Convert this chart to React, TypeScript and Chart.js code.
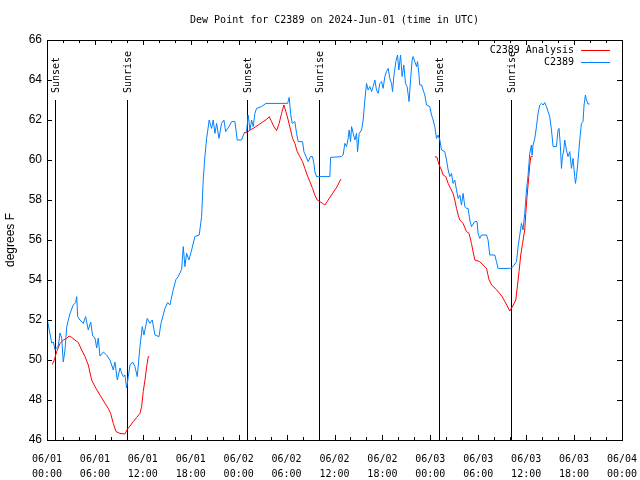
import { useEffect, useRef } from "react";
import { Chart, registerables } from "chart.js";

Chart.register(...registerables);

const TITLE = "Dew Point for C2389 on 2024-Jun-01 (time in UTC)";
const Y_TITLE = "degrees F";
const X_MIN = 0;
const X_MAX = 72;
const Y_MIN = 46;
const Y_MAX = 66;
const X_TICK_DATES = ["06/01", "06/01", "06/01", "06/01", "06/02", "06/02", "06/02", "06/02", "06/03", "06/03", "06/03", "06/03", "06/04"];
const X_TICK_TIMES = ["00:00", "06:00", "12:00", "18:00", "00:00", "06:00", "12:00", "18:00", "00:00", "06:00", "12:00", "18:00", "00:00"];

const SUN_HOURS = [1.04, 10.0, 25.04, 34.0, 49.05, 58.05];
const SUN_LABELS = ["Sunset", "Sunrise", "Sunset", "Sunrise", "Sunset", "Sunrise"];
const SUN_LINE_TOP = 63;

const OBS_LABEL = "C2389";
const ANA_LABEL = "C2389 Analysis";

// Observed dew point (hours since 06/01 00:00 UTC)
const OBS_HOURS = [
  0, 0.59, 0.8, 1.0, 1.41, 1.63, 1.84, 2.04, 2.25, 2.47, 2.88, 3.29, 3.59, 3.72, 3.84, 4.13, 4.54, 4.84, 5.17, 5.47,
  5.72, 6.01, 6.22, 6.42, 6.63, 7.05, 7.47, 7.88, 8.1, 8.3, 8.51, 8.8, 9.14, 9.35, 9.55, 9.76, 9.97, 10.18, 10.39, 10.73,
  11.01, 11.3, 11.64, 11.93, 12.14, 12.55, 12.89, 13.18, 13.52, 14.02, 14.27, 14.77, 15.11, 15.39, 15.8, 16.15, 16.43, 16.86, 17.06, 17.27,
  17.48, 17.77, 18.11, 18.52, 19.06, 19.36, 19.56, 19.77, 19.99, 20.31, 20.61, 20.81, 21.03, 21.24, 21.53, 21.86, 22.15, 22.37, 22.78, 23.12,
  23.53, 23.82, 24.37, 24.66, 24.99, 25.19, 25.41, 25.62, 25.82, 26.03, 26.24, 26.87, 27.41, 30.13, 30.33, 30.5, 30.7, 31.04, 31.25, 31.45,
  32.0, 32.17, 32.7, 33.0, 33.25, 33.42, 33.54, 33.75, 35.42, 35.51, 36.88, 37.08, 37.3, 37.51, 37.71, 37.83, 38.01, 38.14, 38.34, 38.55,
  38.76, 38.89, 39.09, 39.39, 39.59, 39.8, 40.01, 40.21, 40.43, 40.64, 40.84, 41.05, 41.26, 41.46, 41.68, 41.89, 42.09, 42.3, 42.51, 42.72,
  42.93, 43.14, 43.27, 43.43, 43.68, 43.89, 44.06, 44.27, 44.47, 44.68, 44.89, 45.09, 45.34, 45.52, 45.72, 45.84, 46.06, 46.27, 46.4, 46.56,
  46.68, 46.9, 47.1, 47.31, 47.52, 47.93, 48.15, 48.35, 48.56, 48.77, 48.97, 49.19, 49.4, 49.81, 50.03, 50.23, 50.44, 50.65, 50.85, 51.06,
  51.28, 51.48, 51.69, 51.9, 52.1, 52.32, 52.53, 52.73, 52.94, 53.15, 53.57, 53.85, 53.98, 54.19, 54.4, 55.03, 55.23, 55.44, 56.07, 56.28,
  56.48, 57.95, 58.36, 58.79, 58.99, 59.2, 59.41, 59.61, 59.82, 60.04, 60.24, 60.45, 60.66, 60.74, 60.86, 61.08, 61.29, 61.49, 61.7, 61.91,
  62.12, 62.33, 62.54, 62.95, 63.17, 63.37, 63.79, 63.99, 64.12, 64.29, 64.42, 64.54, 64.71, 64.83, 65.04, 65.24, 65.46, 65.67, 65.87, 66.08,
  66.17, 66.3, 66.5, 66.71, 66.92, 67.12, 67.25, 67.42, 67.55, 67.75, 67.96,
];
const OBS_DEW = [
  52.1, 50.85, 50.9, 50.5, 50.7, 51.35, 51.1, 49.9, 50.5, 51.67, 52.33, 52.75, 52.87, 53.17, 52.17, 52.0, 51.83, 52.17, 51.5, 51.9,
  51.2, 51.1, 50.6, 51.1, 50.2, 50.4, 50.25, 50.0, 49.75, 49.5, 49.9, 49.0, 49.6, 49.35, 49.17, 49.25, 48.6, 49.17, 49.75, 49.9,
  49.67, 49.17, 50.67, 51.67, 51.25, 52.08, 51.83, 52.0, 51.25, 51.17, 51.83, 52.58, 52.87, 52.75, 53.5, 54.03, 54.17, 54.53, 55.67, 54.67,
  55.33, 55.0, 55.5, 56.17, 56.25, 57.17, 59.0, 60.17, 61.08, 62.0, 61.58, 62.0, 61.33, 61.83, 61.08, 61.83, 62.0, 61.42, 61.67, 61.92,
  61.92, 61.0, 61.0, 61.33, 61.42, 62.25, 61.5, 62.0, 61.67, 62.33, 62.58, 62.67, 62.83, 62.83, 63.13, 62.33, 61.83, 61.92, 61.33, 60.92,
  60.92, 60.42, 59.92, 60.17, 60.17, 59.83, 59.42, 59.17, 59.17, 60.13, 60.17, 60.25, 60.83, 60.67, 61.08, 61.5, 60.92, 61.67, 61.33, 61.0,
  61.33, 60.42, 61.33, 61.5, 62.0, 63.0, 63.83, 63.5, 63.67, 63.42, 63.67, 64.0, 63.5, 63.33, 63.83, 63.92, 63.58, 64.17, 64.42, 64.58,
  64.08, 63.83, 63.42, 64.17, 64.92, 65.25, 64.5, 65.25, 64.17, 64.75, 63.83, 63.67, 62.92, 64.0, 65.0, 65.17, 64.92, 64.67, 64.92, 64.33,
  63.75, 63.75, 63.5, 63.25, 62.75, 62.67, 62.25, 62.0, 61.67, 61.08, 61.25, 61.0, 60.5, 60.42, 60.0, 59.5, 59.17, 59.33, 58.83, 59.0,
  58.5, 58.08, 58.25, 57.75, 58.33, 57.67, 57.58, 57.58, 57.0, 56.67, 56.92, 56.92, 56.33, 56.08, 56.25, 56.25, 56.0, 55.25, 55.25, 54.92,
  54.58, 54.58, 54.67, 54.92, 55.67, 56.25, 56.83, 56.5, 57.33, 58.5, 59.25, 60.33, 60.75, 60.25, 60.75, 61.08, 61.67, 62.33, 62.75, 62.83,
  62.75, 62.87, 62.67, 62.17, 61.5, 60.67, 60.67, 61.5, 61.58, 60.67, 59.58, 60.17, 60.5, 61.0, 60.5, 60.17, 60.42, 59.58, 60.08, 59.17,
  58.83, 59.17, 60.0, 61.0, 61.83, 61.92, 62.75, 63.25, 63.0, 62.8, 62.8,
];

// Analysis dew point (null = gap between segments)
const ANA_HOURS = [
  0.66, 0.91, 1.21, 1.63, 2.04, 2.47, 2.75, 3.09, 3.5, 3.92, 4.34, 4.76, 5.17, 5.59, 6.01, 6.63, 7.26, 7.67, 7.97, 8.3,
  8.64, 9.14, 9.76, 10.05, 10.39, 10.8, 11.23, 11.64, 11.85, 12.05, 12.27, 12.48, 12.68, 12.8,
  18.0,
  24.66, 25.07, 25.41, 25.82, 26.45, 27.07, 27.5, 27.82, 28.12, 28.41, 28.75, 29.07, 29.37, 29.66, 29.91, 30.2, 30.5, 30.75, 31.04, 31.33,
  31.66, 32.0, 32.29, 32.58, 32.92, 33.25, 33.54, 33.83, 34.17, 34.51, 34.79, 35.08, 35.42, 35.79, 36.3, 36.8,
  42.0,
  48.56, 48.85, 48.97, 49.19, 49.4, 49.6, 49.94, 50.23, 50.53, 50.85, 51.06, 51.28, 51.48, 51.69, 52.1, 52.53, 52.85, 53.15, 53.35, 53.57,
  54.19, 54.61, 55.03, 55.36, 55.69, 56.32, 56.95, 57.57, 57.95, 58.32, 58.7, 58.99, 59.11, 59.32, 59.55, 59.82, 59.95, 60.11, 60.33, 60.45,
  60.58, 60.86,
];
const ANA_DEW = [
  49.78, 50.0, 50.42, 50.83, 51.0, 51.08, 51.2, 51.13, 51.0, 50.87, 50.5, 50.17, 49.75, 49.0, 48.67, 48.25, 47.83, 47.58, 47.33, 46.83,
  46.42, 46.33, 46.3, 46.53, 46.7, 46.92, 47.13, 47.33, 47.67, 48.42, 49.0, 49.67, 50.17, 50.17,
  null,
  61.37, 61.37, 61.5, 61.58, 61.75, 61.92, 62.03, 62.17, 61.92, 61.67, 61.47, 61.83, 62.33, 62.75, 62.42, 62.0, 61.5, 61.08, 60.83, 60.42,
  60.17, 59.92, 59.58, 59.25, 58.92, 58.58, 58.25, 58.0, 57.92, 57.83, 57.75, 57.92, 58.13, 58.35, 58.65, 59.05,
  null,
  60.17, 60.13, 59.92, 59.67, 59.5, 59.25, 59.17, 58.83, 58.58, 58.33, 58.0, 57.58, 57.25, 57.0, 56.83, 56.42, 56.33, 55.83, 55.42, 55.0,
  54.92, 54.75, 54.58, 54.0, 53.75, 53.5, 53.2, 52.75, 52.45, 52.7, 53.0, 54.0, 54.42, 55.25, 55.83, 56.5, 57.33, 58.17, 59.17, 59.75,
  60.17, 60.2,
];

const OBS_COLOR = "#0080ff";
const ANA_COLOR = "#ff0000";
const MONO = '"DejaVu Sans Mono", monospace';
const SANS = '"Liberation Sans", Arial, sans-serif';

const decorPlugin = {
  id: "decor",
  beforeDatasetsDraw(chart: any) {
    const { ctx, chartArea, scales } = chart;
    const xs = scales.x;
    const ys = scales.y;
    ctx.save();
    ctx.strokeStyle = "#000";
    ctx.lineWidth = 1;
    const yTop = Math.round(ys.getPixelForValue(SUN_LINE_TOP));
    const yBot = chartArea.bottom;
    SUN_HOURS.forEach((h, i) => {
      const px = Math.round(xs.getPixelForValue(h)) + 0.5;
      ctx.beginPath();
      ctx.moveTo(px, yTop);
      ctx.lineTo(px, yBot);
      ctx.stroke();
      ctx.save();
      ctx.translate(px + 1, yTop - 7);
      ctx.rotate(-Math.PI / 2);
      ctx.fillStyle = "#000";
      ctx.font = `10px ${MONO}`;
      ctx.textAlign = "left";
      ctx.textBaseline = "middle";
      ctx.fillText(SUN_LABELS[i], 0, 0);
      ctx.restore();
    });
    ctx.restore();
  },
  afterDatasetsDraw(chart: any) {
    const { ctx, chartArea, scales } = chart;
    const xs = scales.x;
    const ys = scales.y;
    const { left, right, top, bottom } = chartArea;
    ctx.save();
    ctx.strokeStyle = "#000";
    ctx.lineWidth = 1;
    // frame
    ctx.strokeRect(Math.round(left) + 0.5, Math.round(top) + 0.5, Math.round(right - left), Math.round(bottom - top));
    // x ticks (inward, top and bottom)
    ctx.beginPath();
    for (let h = X_MIN; h <= X_MAX; h += 2) {
      const px = Math.round(xs.getPixelForValue(h)) + 0.5;
      const len = h % 6 === 0 ? 5 : 3;
      ctx.moveTo(px, bottom);
      ctx.lineTo(px, bottom - len);
      ctx.moveTo(px, top);
      ctx.lineTo(px, top + len);
    }
    // y ticks (inward, left and right)
    for (let v = Y_MIN; v <= Y_MAX; v += 2) {
      const py = Math.round(ys.getPixelForValue(v)) + 0.5;
      ctx.moveTo(left, py);
      ctx.lineTo(left + 5, py);
      ctx.moveTo(right, py);
      ctx.lineTo(right - 5, py);
    }
    ctx.stroke();
    // title
    ctx.fillStyle = "#000";
    ctx.font = `10px ${MONO}`;
    ctx.textAlign = "center";
    ctx.textBaseline = "middle";
    ctx.fillText(TITLE, (left + right) / 2, 20);
    // legend
    const rows = [
      { label: ANA_LABEL, color: ANA_COLOR, y: 50 },
      { label: OBS_LABEL, color: OBS_COLOR, y: 62 },
    ];
    rows.forEach((r) => {
      ctx.fillStyle = "#000";
      ctx.textAlign = "right";
      ctx.fillText(r.label, right - 48, r.y);
      ctx.strokeStyle = r.color;
      ctx.beginPath();
      ctx.moveTo(right - 41, r.y + 0.5);
      ctx.lineTo(right - 12, r.y + 0.5);
      ctx.stroke();
    });
    ctx.restore();
  },
};

export default function App() {
  const canvasRef = useRef<HTMLCanvasElement | null>(null);

  useEffect(() => {
    const canvas = canvasRef.current;
    if (!canvas) return;
    const obsData = OBS_HOURS.map((h, i) => ({ x: h, y: OBS_DEW[i] }));
    const anaData = ANA_HOURS.map((h, i) => ({ x: h, y: ANA_DEW[i] }));
    const chart = new Chart(canvas, {
      type: "line",
      data: {
        datasets: [
          {
            label: OBS_LABEL,
            data: obsData as any,
            borderColor: OBS_COLOR,
            backgroundColor: OBS_COLOR,
            borderWidth: 1,
            pointRadius: 0,
            tension: 0,
            fill: false,
          },
          {
            label: ANA_LABEL,
            data: anaData as any,
            borderColor: ANA_COLOR,
            backgroundColor: ANA_COLOR,
            borderWidth: 1,
            pointRadius: 0,
            tension: 0,
            fill: false,
            spanGaps: false,
          },
        ],
      },
      options: {
        animation: false,
        responsive: false,
        devicePixelRatio: 1,
        layout: { padding: { left: 0, top: 40, right: 18, bottom: 0 } },
        plugins: {
          legend: { display: false },
          title: { display: false },
          tooltip: { enabled: false },
        },
        scales: {
          x: {
            type: "linear",
            min: X_MIN,
            max: X_MAX,
            grid: { display: false, drawTicks: false },
            border: { display: false },
            ticks: {
              stepSize: 6,
              autoSkip: false,
              maxRotation: 0,
              minRotation: 0,
              padding: 12,
              color: "#000",
              font: { family: MONO, size: 10, lineHeight: 1.5 },
              callback: (v: any) => {
                const i = Math.round(Number(v) / 6);
                return [X_TICK_DATES[i], X_TICK_TIMES[i]];
              },
            },
            afterFit: (s: any) => {
              s.height = 40;
              s.paddingLeft = 0;
              s.paddingRight = 0;
            },
          },
          y: {
            min: Y_MIN,
            max: Y_MAX,
            grid: { display: false, drawTicks: false },
            border: { display: false },
            ticks: {
              stepSize: 2,
              padding: 5,
              color: "#000",
              font: { family: SANS, size: 12 },
            },
            title: {
              display: true,
              text: Y_TITLE,
              color: "#000",
              font: { family: SANS, size: 12 },
              padding: { top: 3, bottom: 0 },
            },
            afterFit: (s: any) => {
              s.width = 47;
              s.paddingTop = 0;
              s.paddingBottom = 0;
            },
          },
        },
      },
      plugins: [decorPlugin],
    });
    return () => chart.destroy();
  }, []);

  return (
    <div style={{ position: "absolute", left: 0, top: 0, width: 640, height: 480, background: "#fff" }}>
      <canvas ref={canvasRef} width={640} height={480} style={{ display: "block" }} />
    </div>
  );
}
